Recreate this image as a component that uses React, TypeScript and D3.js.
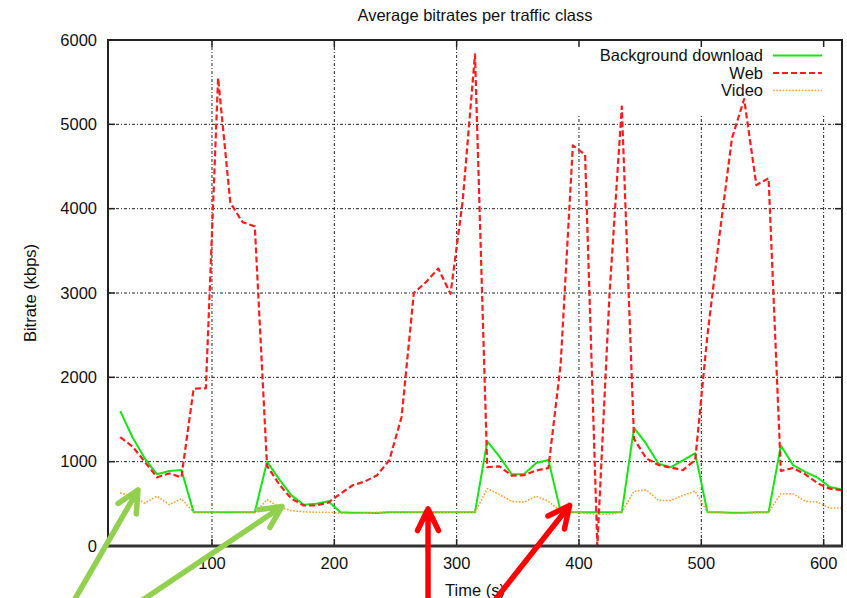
import React from "react";
import * as d3 from "d3";

const width = 847;
const height = 598;
const margin = { top: 40, right: 5, bottom: 52, left: 108 };

// time stamps (s), one sample every 10 s
const times = [
  25, 35, 45, 55, 65, 75, 85, 95, 105, 115, 125, 135, 145, 155, 165, 175, 185, 195, 205, 215,
  225, 235, 245, 255, 265, 275, 285, 295, 305, 315, 325, 335, 345, 355, 365, 375, 385, 395, 405, 415,
  425, 435, 445, 455, 465, 475, 485, 495, 505, 515, 525, 535, 545, 555, 565, 575, 585, 595, 605, 615
];

// average bitrates (kbps)
const background = [
  1600, 1290, 1040, 850, 890, 900, 400, 400, 400, 400, 400, 400, 1000, 790, 600, 490, 500, 530, 400, 395,
  395, 390, 400, 400, 400, 400, 400, 400, 400, 400, 1240, 1060, 850, 850, 985, 1020, 410, 400, 400, 400,
  400, 400, 1400, 1210, 975, 935, 1015, 1100, 400, 400, 395, 395, 400, 400, 1190, 960, 880, 810, 700, 670
];
const web = [
  1290, 1180, 1000, 815, 860, 815, 1865, 1870, 5550, 4070, 3840, 3790, 950, 730, 560, 480, 480, 515, 620, 720,
  765, 840, 1020, 1530, 3000, 3130, 3290, 2990, 4100, 5830, 935, 945, 835, 840, 895, 925, 2150, 4750, 4640, 0,
  3000, 5210, 1270, 1040, 960, 930, 900, 1020, 2500, 3700, 4830, 5300, 4280, 4360, 890, 925, 850, 745, 680, 660
];
const video = [
  630, 590, 510, 590, 490, 560, 400, 400, 405, 410, 400, 395, 550, 460, 420, 405, 400, 400, 390, 385,
  390, 400, 405, 405, 400, 400, 395, 400, 400, 400, 680, 610, 530, 520, 590, 530, 410, 400, 390, 375,
  380, 400, 650, 665, 540, 540, 600, 650, 400, 395, 385, 390, 395, 400, 620, 620, 530, 520, 450, 450
];

const xTicks = [100, 200, 300, 400, 500, 600];
const yTicks = [0, 1000, 2000, 3000, 4000, 5000, 6000];

const seriesNames = ["Background download", "Web", "Video"];

// annotation arrows, in data units: [time, kbps]
const arrows = [
  { from: [-18.2, -783], to: [39.5, 664], color: "#92d050" },
  { from: [28.7, -783], to: [157.2, 468], color: "#92d050" },
  { from: [276.6, -783], to: [276.6, 439], color: "#ff0000" },
  { from: [323.6, -783], to: [392.3, 480], color: "#ff0000" }
];

const styles = [
  { stroke: "#14e614", dash: null, w: 2 },
  { stroke: "#ff1c1c", dash: "6,3", w: 2.2 },
  { stroke: "#ffa030", dash: "1.6,1.6", w: 1.6 }
];

const font = "'Liberation Sans', Arial, sans-serif";

export default function App() {
  const x = d3.scaleLinear().domain([15, 615]).range([margin.left, width - margin.right]);
  const y = d3.scaleLinear().domain([0, 6000]).range([height - margin.bottom, margin.top]);

  const line = d3
    .line<number>()
    .x((_, i) => x(times[i]))
    .y((d) => y(d));

  const series = [background, web, video];
  const x0 = x.range()[0];
  const x1 = x.range()[1];
  const yb = y(0);
  const yt = y(6000);
  // the key box hides the grid in the top right corner
  const keyLeft = 572;
  const keyBottom = 115;

  const arrowPaths = arrows.map((a) => {
    const tx = x(a.to[0]);
    const ty = y(a.to[1]);
    const fx = x(a.from[0]);
    const fy = y(a.from[1]);
    const ang = Math.atan2(fy - ty, fx - tx);
    const spread = (26 * Math.PI) / 180;
    const len = 24;
    const b1 = [tx + len * Math.cos(ang - spread), ty + len * Math.sin(ang - spread)];
    const b2 = [tx + len * Math.cos(ang + spread), ty + len * Math.sin(ang + spread)];
    return {
      color: a.color,
      d: `M${fx},${fy}L${tx},${ty}M${b1[0]},${b1[1]}L${tx},${ty}L${b2[0]},${b2[1]}`
    };
  });

  return (
    <svg
      width={width}
      height={height}
      style={{ position: "absolute", left: 0, top: 0, background: "#fff" }}
      fontFamily={font}
    >
      <defs>
        <clipPath id="plot">
          <rect x={x0} y={yt} width={x1 - x0} height={yb - yt} />
        </clipPath>
      </defs>

      {/* grid */}
      <g stroke="#222" strokeWidth={1} strokeDasharray="3,2,1,2">
        {yTicks.slice(1, -1).map((t) => (
          <line key={t} x1={x0} x2={x1} y1={y(t)} y2={y(t)} />
        ))}
        {xTicks.map((t) => (
          <line key={t} x1={x(t)} x2={x(t)} y1={yb} y2={x(t) > keyLeft ? keyBottom : yt} />
        ))}
      </g>

      {/* ticks on all four sides */}
      <g stroke="#222" strokeWidth={1.5}>
        {xTicks.map((t) => (
          <g key={t}>
            <line x1={x(t)} x2={x(t)} y1={yb} y2={yb - 7} />
            <line x1={x(t)} x2={x(t)} y1={yt} y2={yt + 7} />
          </g>
        ))}
        {yTicks.map((t) => (
          <g key={t}>
            <line x1={x0} x2={x0 + 7} y1={y(t)} y2={y(t)} />
            <line x1={x1} x2={x1 - 7} y1={y(t)} y2={y(t)} />
          </g>
        ))}
      </g>

      {/* data */}
      <g clipPath="url(#plot)" fill="none">
        {series.map((s, i) => (
          <path
            key={i}
            d={line(s) || ""}
            stroke={styles[i].stroke}
            strokeWidth={styles[i].w}
            strokeDasharray={styles[i].dash || undefined}
            strokeLinejoin="round"
          />
        ))}
      </g>

      {/* border */}
      <rect x={x0} y={yt} width={x1 - x0} height={yb - yt} fill="none" stroke="#222" strokeWidth={2} />
      <line x1={x0 - 1} x2={x1 + 1} y1={yb} y2={yb} stroke="#333" strokeWidth={3} />

      {/* tick labels */}
      <g fontSize={16.5} fill="#111">
        {yTicks.map((t) => (
          <text key={t} x={x0 - 11} y={y(t)} dy="0.35em" textAnchor="end">
            {t}
          </text>
        ))}
        {xTicks.map((t) => (
          <text key={t} x={x(t)} y={yb + 23} textAnchor="middle">
            {t}
          </text>
        ))}
      </g>

      <text x={(x0 + x1) / 2} y={21} fontSize={16.5} textAnchor="middle" fill="#111">
        Average bitrates per traffic class
      </text>
      <text
        transform={`translate(36, ${(yb + yt) / 2}) rotate(-90)`}
        fontSize={16.5}
        textAnchor="middle"
        fill="#111"
      >
        Bitrate (kbps)
      </text>
      <text x={(x0 + x1) / 2} y={596} fontSize={16.5} textAnchor="middle" fill="#111">
        Time (s)
      </text>

      {/* key */}
      <g fontSize={16.5} fill="#111">
        {seriesNames.map((n, i) => (
          <g key={n} transform={`translate(0, ${55.5 + i * 17.5})`}>
            <text x={763} y={0} dy="0.35em" textAnchor="end">
              {n}
            </text>
            <line
              x1={773}
              x2={822}
              y1={0}
              y2={0}
              stroke={styles[i].stroke}
              strokeWidth={styles[i].w}
              strokeDasharray={styles[i].dash || undefined}
            />
          </g>
        ))}
      </g>

      {/* annotation arrows */}
      <g fill="none" strokeWidth={5.5} strokeLinecap="round" strokeLinejoin="round">
        {arrowPaths.map((a, i) => (
          <path key={i} d={a.d} stroke={a.color} />
        ))}
      </g>
    </svg>
  );
}
